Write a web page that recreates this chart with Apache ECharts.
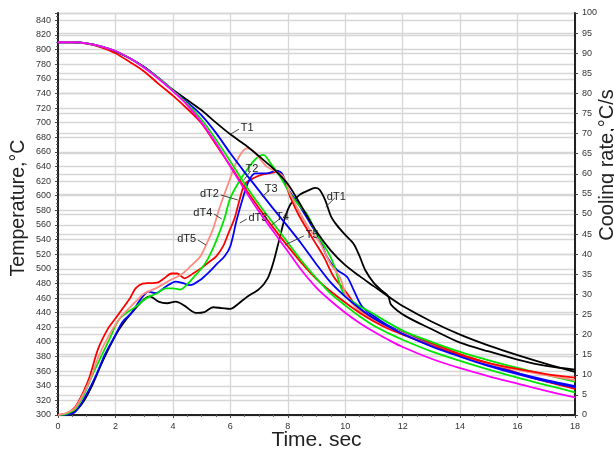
<!DOCTYPE html>
<html>
<head>
<meta charset="utf-8">
<script src="https://cdn.jsdelivr.net/npm/echarts@6/dist/echarts.min.js"></script>
<style>html,body{margin:0;padding:0;background:#fff}#c{width:614px;height:449px}</style>
</head>
<body>
<div id="c"></div>
<script>
// Temperature curves [time s, °C]
const T1 = [[0,810],[0.5,810],[1,808.5],[1.5,804],[2,797],[2.5,788],[3,776],[3.5,761],[4,745],[4.5,731],[5,717],[5.5,700],[6,684],[6.5,670],[7,654],[7.5,637],[8,616],[8.5,584],[9,551],[9.5,525],[10,505],[10.5,490],[11,476],[11.5,462],[12,449],[13,428],[14,410],[15,395],[16,382],[17,370],[18,359]];
const T2 = [[0,810],[0.5,810],[1,808],[1.5,803],[2,795],[2.5,783],[3,770],[3.5,753],[4,737],[4.5,719],[5,699],[5.5,670],[6,641],[6.5,611],[7,583],[7.5,556],[8,531],[8.5,507],[9,486],[9.5,469],[10,454],[10.5,440],[11,428],[11.5,418],[12,410],[13,395],[14,382],[15,371],[16,363],[17,356],[18,351]];
const T3 = [[0,810],[0.5,810],[1,808.5],[1.5,804.5],[2,798],[2.5,788],[3,776],[3.5,761],[4,744],[4.5,728],[5,710],[5.5,686],[6,658],[6.5,632],[7,607],[7.5,582],[8,558],[8.5,533],[9,506],[9.5,481],[10,462],[10.5,446],[11,432],[11.5,421],[12,411],[13,394],[14,380],[15,367],[16,356],[17,346],[18,338]];
const T4 = [[0,810],[0.5,810],[1,808.5],[1.5,804.5],[2,798],[2.5,788],[3,775.5],[3.5,761],[4,744],[4.5,726],[5,704],[5.5,677],[6,647],[6.5,616],[7,588],[7.5,562],[8,536],[8.5,510],[9,487],[9.5,466],[10,450],[10.5,435],[11,422],[11.5,412],[12,403],[13,387],[14,374],[15,362],[16,351],[17,341],[18,331]];
const T5 = [[0,810],[0.5,810],[1,808.5],[1.5,804.5],[2,798],[2.5,788],[3,775],[3.5,760],[4,743],[4.5,724],[5,700],[5.5,672],[6,640],[6.5,608],[7,578],[7.5,551],[8,524],[8.5,497],[9,474],[9.5,456],[10,440],[10.5,426],[11,414],[11.5,403],[12,393],[13,377],[14,364],[15,353],[16,343],[17,333],[18,324]];

// Cooling-rate curves [time s, °C/s]
const dT1 = [[0,0],[0.3,0.2],[0.6,1],[0.9,3.5],[1.2,7.5],[1.5,12.5],[1.8,17],[2.1,21],[2.4,24],[2.7,26.5],[3.0,28.8],[3.2,29.5],[3.5,28.2],[3.8,27.8],[4.1,28.2],[4.4,27.2],[4.8,25.4],[5.1,25.6],[5.4,26.8],[5.7,26.6],[6.0,26.4],[6.25,27.5],[6.6,29.5],[7.0,31.3],[7.3,34],[7.5,38],[7.7,43.5],[7.9,49],[8.1,52.5],[8.4,54.7],[8.7,55.8],[8.95,56.5],[9.1,56.1],[9.3,53.5],[9.5,49.5],[9.7,47.3],[10.0,44.8],[10.3,42.5],[10.5,39.5],[10.7,36],[11.0,32.8],[11.3,30.8],[11.5,29.5],[11.6,27.4],[12.1,24.6],[13.0,21.4],[14.0,18.0],[15.0,15.8],[16.0,13.8],[17.0,12.2],[18.0,11.3]];
const dT2 = [[0,0],[0.3,0.4],[0.6,2],[0.9,6],[1.1,9.5],[1.4,16.5],[1.75,21.6],[2.0,24],[2.2,26],[2.5,29],[2.7,31.5],[2.95,32.7],[3.2,32.8],[3.45,32.9],[3.7,34],[3.95,35.2],[4.15,35.2],[4.4,34],[4.7,35.2],[5.0,36.6],[5.25,38],[5.5,39.4],[5.75,42],[5.95,45.5],[6.15,49],[6.35,54.3],[6.5,57.4],[6.8,58.9],[7.1,59.8],[7.4,60.2],[7.65,60.5],[7.8,60],[7.95,57],[8.1,54],[8.4,49.5],[8.9,43.5],[9.25,39.4],[9.6,34.4],[10.06,30.3],[10.4,27],[10.85,24.6],[11.8,21.1],[13.0,17.9],[14.1,14.9],[15.3,12.2],[16.4,9.5],[18.0,6.5]];
const dT3 = [[0,0],[0.3,0.1],[0.6,0.8],[0.95,4.6],[1.3,9.5],[1.65,15.3],[2.0,19.9],[2.25,23.2],[2.55,25.3],[2.9,29],[3.15,30.7],[3.4,30.3],[3.75,31.9],[4.1,33.2],[4.35,32.8],[4.6,32.3],[4.95,33.6],[5.25,35.5],[5.55,37.7],[5.8,39.5],[6.0,42],[6.22,48.5],[6.45,54.3],[6.63,58],[6.86,60.1],[7.27,60.1],[7.6,60.8],[7.8,60],[7.96,56.8],[8.43,51.8],[8.78,47.7],[9.13,43.5],[9.36,39.4],[9.71,36.1],[10.06,34.4],[10.3,31],[10.6,26.9],[11.2,23.6],[11.8,21.1],[13.0,17.4],[14.0,14.7],[15.0,12.4],[16.0,10.4],[17.0,8.7],[18.0,7.2]];
const dT4 = [[0,0],[0.3,0.3],[0.6,1.5],[0.9,5],[1.2,10],[1.5,14.5],[1.8,19],[2.1,23.5],[2.4,25.5],[2.7,26.9],[2.97,28.5],[3.2,29.5],[3.45,30.3],[3.75,31.5],[4.0,31.5],[4.25,31.2],[4.5,32.5],[4.75,34.5],[5.0,36.5],[5.2,38.6],[5.4,41.5],[5.6,45],[5.8,49],[6.0,54],[6.3,58],[6.6,61.2],[6.9,63.8],[7.15,64.7],[7.4,62.6],[7.73,59.3],[8.08,55.1],[8.43,51.8],[8.66,50.1],[9.0,45.2],[9.36,41],[9.6,37.5],[9.94,30.3],[10.4,27.5],[10.75,26.1],[12.0,21.0],[13.0,18.2],[14.0,15.7],[15.0,13.6],[16.0,11.7],[17.0,10],[18.0,8.3]];
const dT5 = [[0,0],[0.3,0.5],[0.6,1.8],[0.9,5.5],[1.1,8.5],[1.4,14.3],[1.75,19.5],[2.2,24.5],[2.65,27.8],[3.0,30.2],[3.4,31.5],[3.9,33.5],[4.3,35],[4.6,36.9],[4.95,39.4],[5.18,42.7],[5.41,46.5],[5.6,51],[5.76,54.3],[5.95,58],[6.1,61],[6.34,64.7],[6.57,66.3],[6.75,65.9],[6.92,64.7],[7.27,61.8],[7.6,60.5],[7.85,59.3],[8.08,55.1],[8.43,50.2],[8.78,46],[9.13,42.7],[9.48,37.7],[9.83,34],[10.06,29.4],[10.75,24.5],[12.0,20.4],[13.0,17.3],[14.0,14.7],[15.0,12.8],[16.0,11.2],[17.0,9.9],[18.0,8.7]];

// Curve labels: [text, leader start time, leader start °C, leader end time, leader end °C]
const curveLabels = [
  ['T1', 6.30, 691, 6.02, 684.5],
  ['T2', 6.71, 634, 6.47, 621.5],
  ['T3', 7.37, 608, 7.10, 598.3],
  ['T4', 7.76, 569.5, 7.44, 560],
  ['T5', 8.56, 545, 7.90, 532.6],
  ['dT1', 9.64, 597, 9.32, 584.6],
  ['dT2', 5.67, 601, 6.26, 594.2],
  ['dT4', 5.43, 575, 5.70, 568.2],
  ['dT3', 6.57, 568.2, 6.33, 562.7],
  ['dT5', 4.87, 539.4, 5.15, 532.6]
];

const xTicks = {min: 0, max: 18, interval: 2};
const tempTicks = {min: 300, max: 850, interval: 20};
const rateTicks = {min: 0, max: 100, interval: 5};

const FONT = 'Liberation Sans, Arial, sans-serif';
const gridLine = {show: true, lineStyle: {color: '#d6d6d6', width: 1.3}};

function lineSeries(name, data, color, yAxisIndex, extra) {
  return Object.assign({
    name, type: 'line', data, yAxisIndex, smooth: 0.3, showSymbol: false, symbol: 'none',
    lineStyle: {color, width: 1.8}, itemStyle: {color}, z: 3, animation: false
  }, extra || {});
}

const markLine = {
  silent: true, symbol: ['none', 'none'], animation: false,
  lineStyle: {color: '#444', width: 1, type: 'solid'},
  label: {show: true, position: 'start', distance: 2, color: '#222', fontSize: 11, fontFamily: FONT, formatter: p => p.name},
  data: curveLabels.map(a => [{name: a[0], coord: [a[1], a[2]]}, {coord: [a[3], a[4]]}])
};

const chart = echarts.init(document.getElementById('c'), null, {renderer: 'canvas'});
chart.setOption({
  animation: false,
  backgroundColor: '#fff',
  grid: {left: 58, right: 39, top: 13, bottom: 34, containLabel: false, outerBoundsMode: 'none'},
  xAxis: {
    type: 'value', min: xTicks.min, max: xTicks.max, interval: xTicks.interval,
    name: 'Time. sec', nameLocation: 'middle', nameGap: 15, nameMoveOverlap: false,
    nameTextStyle: {fontSize: 21, color: '#222', fontFamily: FONT},
    axisLine: {lineStyle: {color: '#222', width: 2}},
    axisTick: {show: true, length: 3, lineStyle: {color: '#444'}},
    minorTick: {show: true, splitNumber: 4, length: 2, lineStyle: {color: '#666'}},
    axisLabel: {fontSize: 9, color: '#333', margin: 7, fontFamily: FONT},
    splitLine: gridLine
  },
  yAxis: [{
    type: 'value', position: 'left', min: tempTicks.min, max: tempTicks.max, interval: tempTicks.interval,
    name: 'Temperature,°C', nameLocation: 'middle', nameGap: 29, nameRotate: 90, nameMoveOverlap: false,
    nameTextStyle: {fontSize: 19.5, color: '#222', fontFamily: FONT, padding: [0, 0, 0, 12]},
    axisLine: {show: true, lineStyle: {color: '#222', width: 2}},
    axisTick: {show: true, length: 3, lineStyle: {color: '#444'}},
    minorTick: {show: true, splitNumber: 4, length: 2, lineStyle: {color: '#666'}},
    axisLabel: {fontSize: 9, color: '#333', margin: 7, fontFamily: FONT, showMaxLabel: false},
    splitLine: gridLine
  }, {
    type: 'value', position: 'right', min: rateTicks.min, max: rateTicks.max, interval: rateTicks.interval,
    name: 'Cooling rate,°C/s', nameLocation: 'middle', nameGap: 22, nameRotate: 90, nameMoveOverlap: false,
    nameTextStyle: {fontSize: 20, color: '#222', fontFamily: FONT, padding: [0, 0, 0, 98]},
    axisLine: {show: true, lineStyle: {color: '#222', width: 2}},
    axisTick: {show: true, length: 3, lineStyle: {color: '#444'}},
    axisLabel: {fontSize: 9, color: '#333', margin: 7, fontFamily: FONT},
    splitLine: gridLine
  }],
  series: [
    lineSeries('dT1', dT1, '#000000', 1),
    lineSeries('dT2', dT2, '#ff0000', 1),
    lineSeries('dT3', dT3, '#0000ff', 1),
    lineSeries('dT4', dT4, '#00e600', 1),
    lineSeries('dT5', dT5, '#ff8c80', 1),
    lineSeries('T1', T1, '#000000', 0, {markLine}),
    lineSeries('T2', T2, '#ff0000', 0),
    lineSeries('T3', T3, '#0000ff', 0),
    lineSeries('T4', T4, '#00e600', 0),
    lineSeries('T5', T5, '#ff00ff', 0)
  ]
});
</script>
</body>
</html>
